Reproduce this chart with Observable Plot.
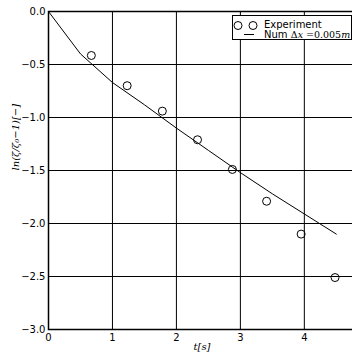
<!DOCTYPE html>
<html><head>
<meta charset="utf-8">
<script src="https://cdn.jsdelivr.net/npm/d3@7"></script>
<script src="https://cdn.jsdelivr.net/npm/@observablehq/plot@0.6"></script>
<style>
body{margin:0;background:#fff;overflow:hidden}
#c{position:relative;width:352px;height:356px;overflow:hidden}
#leg{position:absolute;left:232px;top:15px;width:118px;height:23px;border:1px solid #000;background:#fff;font:10px "DejaVu Sans",sans-serif;color:#000}
#leg .row{position:absolute;left:0;height:12px;line-height:12px;white-space:nowrap}
#leg svg{position:absolute;left:0;top:0}
.m{font-family:"DejaVu Serif",serif;font-size:9.5px}
.i{font-style:italic}
</style>
</head><body><div id="c"></div>
<script>
const expT = [0.67, 1.23, 1.78, 2.33, 2.875, 3.41, 3.95, 4.48];
const expY = [-0.415, -0.70, -0.94, -1.21, -1.49, -1.79, -2.10, -2.51];
const numT = [0, 0.5, 1, 1.5, 2, 2.5, 3, 3.5, 4, 4.5];
const numY = [0, -0.40, -0.67, -0.88, -1.10, -1.31, -1.52, -1.72, -1.91, -2.10];
const xTicks = [0, 1, 2, 3, 4];
const yTicks = [0, -0.5, -1.0, -1.5, -2.0, -2.5, -3.0];
const xLabel = "t[s]";
const yLabel = "ln(ζ/ζ₀−1)[−]";

const expData = expT.map((t, i) => ({t, y: expY[i]}));
const numData = numT.map((t, i) => ({t, y: numY[i]}));

const chart = Plot.plot({
  width: 355, height: 356,
  marginLeft: 48, marginTop: 11, marginBottom: 27, marginRight: 0,
  style: {fontFamily: "DejaVu Sans, sans-serif", fontSize: "10px", background: "#fff", color: "#000", maxWidth: "none"},
  x: {domain: [0, 4.8]},
  y: {domain: [-3, 0]},
  marks: [
    Plot.gridX(xTicks.slice(1), {stroke: "#000", strokeOpacity: 1, strokeWidth: 1}),
    Plot.gridY(yTicks.slice(1, -1), {stroke: "#000", strokeOpacity: 1, strokeWidth: 1}),
    Plot.line(numData, {x: "t", y: "y", stroke: "#000", strokeWidth: 1}),
    Plot.dot(expData, {x: "t", y: "y", r: 4, stroke: "#000", fill: "none", strokeWidth: 1}),
    Plot.frame({stroke: "#000", strokeWidth: 1.5}),
    Plot.axisY(yTicks, {tickSize: 0, tickPadding: 3, tickFormat: d3.format(".1f"), label: null, fontSize: 10}),
    Plot.axisX(xTicks, {tickSize: 0, tickPadding: 4, tickFormat: d => String(d), label: null, fontSize: 10}),
    Plot.text([yLabel], {frameAnchor: "left", dx: -33, rotate: -90, text: d => d, fontFamily: "DejaVu Serif, serif", fontStyle: "italic", fontSize: 10}),
    Plot.text([xLabel], {frameAnchor: "bottom", dy: 20, text: d => d, fontFamily: "DejaVu Serif, serif", fontStyle: "italic", fontSize: 10})
  ]
});
chart.style.position = "absolute";
chart.style.left = "0";
chart.style.top = "0";
chart.style.maxWidth = "none";
chart.style.width = "355px";
chart.style.height = "356px";
const c = document.getElementById("c");
c.appendChild(chart);

const leg = document.createElement("div");
leg.id = "leg";
leg.innerHTML = `
<svg width="118" height="23">
  <circle cx="5" cy="9.5" r="4" fill="none" stroke="#000"/>
  <circle cx="20" cy="9.5" r="4" fill="none" stroke="#000"/>
  <line x1="11" x2="21" y1="18.5" y2="18.5" stroke="#000"/>
</svg>
<div class="row" style="left:31px;top:3px">Experiment</div>
<div class="row" style="left:31px;top:12.5px">Num <span class="m">Δ<span class="i">x</span> =0.005<span class="i">m</span></span></div>`;
c.appendChild(leg);
</script>
</body></html>
